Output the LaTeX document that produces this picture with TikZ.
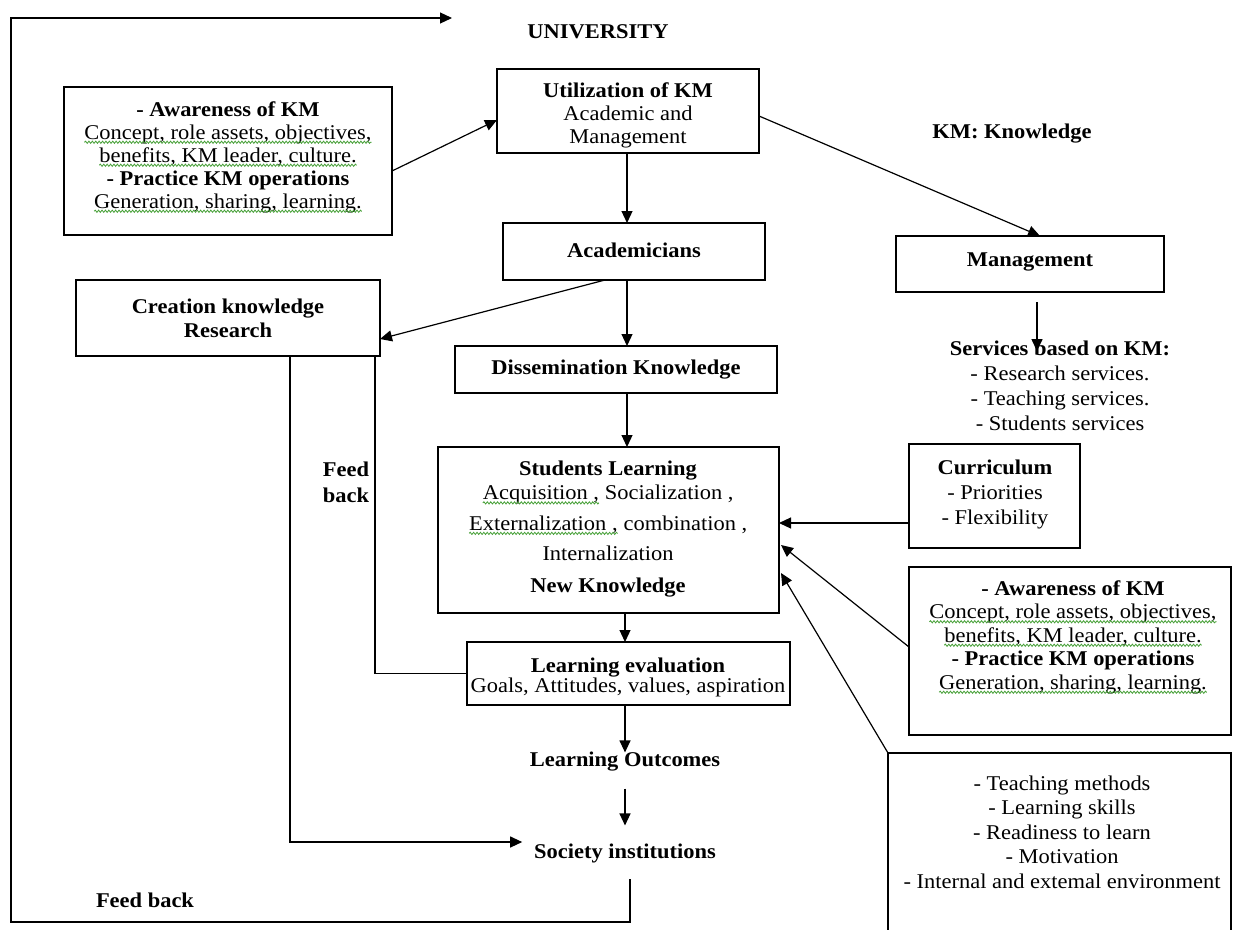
\documentclass[tikz,border=0pt]{standalone}
\usepackage{fontspec}
\setmainfont{Liberation Serif}[FakeStretch=1.07]
\usetikzlibrary{arrows.meta,decorations.pathmorphing,calc}
\definecolor{squig}{RGB}{70,160,55}
\tikzset{
  frame/.style={draw=black, line width=1.6pt, inner sep=0pt, outer sep=0pt, anchor=north west},
  txt/.style={font=\fontsize{21}{23}\selectfont, align=center, inner sep=0pt, outer sep=0pt},
  hd/.style={txt, font=\fontsize{21}{23}\selectfont\bfseries},
  link/.style={line width=1.2pt},
  arr/.style={link, -{Triangle[length=12pt,width=11pt]}},
  wave/.style={draw=squig, line width=0.8pt, decorate,
    decoration={snake, segment length=3.4pt, amplitude=1.1pt}},
}
% green wavy underline under a line of text
\newcommand\wavy[1]{\tikz[baseline=(wv.base)]{\node[inner sep=0pt,outer sep=0pt] (wv) {#1};%
  \path[wave] ([yshift=-3.2pt]wv.base west) -- ([yshift=-3.2pt]wv.base east);}}

\begin{document}
\begin{tikzpicture}[x=1pt, y=-1pt]
\fill[white] (0,0) rectangle (1233,929);
\useasboundingbox (0,0) rectangle (1233,929);

% ---- frames ----
\node[frame, minimum width=328pt, minimum height=148pt] (aw1)    at (64,87)   {};
\node[frame, minimum width=262pt, minimum height=84pt]  (util)   at (497,69)  {};
\node[frame, minimum width=262pt, minimum height=57pt]  (acad)   at (503,223) {};
\node[frame, minimum width=268pt, minimum height=56pt]  (mgmt)   at (896,236) {};
\node[frame, minimum width=304pt, minimum height=76pt]  (creat)  at (76,280)  {};
\node[frame, minimum width=322pt, minimum height=47pt]  (dissem) at (455,346) {};
\node[frame, minimum width=341pt, minimum height=166pt] (stud)   at (438,447) {};
\node[frame, minimum width=171pt, minimum height=104pt] (curr)   at (909,444) {};
\node[frame, minimum width=322pt, minimum height=168pt] (aw2)    at (909,567) {};
\node[frame, minimum width=323pt, minimum height=63pt]  (lev)    at (467,642) {};
\node[frame, minimum width=343pt, minimum height=200pt] (env)    at (888,753) {};

% ---- texts ----
\node[hd] (univ) at (598,32) {UNIVERSITY};
\node[hd] (kmk) at (1012,134) {KM: Knowledge};

\node[txt] (aw1t) at (228,157) {{\bfseries - Awareness of KM}\\
  \wavy{Concept, role assets, objectives,}\\
  \wavy{benefits, KM leader, culture.}\\
  {\bfseries - Practice KM operations}\\
  \wavy{Generation, sharing, learning.}};

\node[txt] (utilt) at (628,115) {{\bfseries Utilization of KM}\\ Academic and\\ Management};
\node[hd] (acadt) at (634,250) {Academicians};
\node[hd] (mgmtt) at (1030,262) {Management};

\node[txt, font=\fontsize{21}{25}\selectfont] (srv) at (1060,386)
  {{\bfseries Services based on KM:}\\ - Research services.\\ - Teaching services.\\ - Students services};

\node[hd, font=\fontsize{21}{24}\selectfont\bfseries] (creatt) at (228,318) {Creation knowledge\\ Research};
\node[hd] (dissemt) at (616,370) {Dissemination Knowledge};

\node[hd] (studh) at (608,471) {Students Learning};
\node[txt, font=\fontsize{21}{30.5}\selectfont] (studb) at (608,523)
  {\wavy{Acquisition ,} Socialization ,\\ \wavy{Externalization ,} combination ,\\ Internalization};
\node[hd] (studn) at (608,588) {New Knowledge};

\node[txt, font=\fontsize{21}{25}\selectfont] (currt) at (995,494)
  {{\bfseries Curriculum}\\ - Priorities\\ - Flexibility};

\node[txt, font=\fontsize{21}{23.5}\selectfont] (aw2t) at (1073,637) {{\bfseries - Awareness of KM}\\
  \wavy{Concept, role assets, objectives,}\\
  \wavy{benefits, KM leader, culture.}\\
  {\bfseries - Practice KM operations}\\
  \wavy{Generation, sharing, learning.}};

\node[txt, font=\fontsize{21}{24.5}\selectfont] (envt) at (1062,832)
  {- Teaching methods\\ - Learning skills\\ - Readiness to learn\\ - Motivation\\ - Internal and extemal environment};

\node[txt, font=\fontsize{21}{20}\selectfont] (levt) at (628,677)
  {{\bfseries Learning evaluation}\\ Goals, Attitudes, values, aspiration};

\node[hd] (lo)  at (625,762) {Learning Outcomes};
\node[hd] (soc) at (625,853) {Society institutions};

\node[hd, font=\fontsize{21}{26}\selectfont\bfseries] (fbm) at (346,482) {Feed\\ back};
\node[hd] (fbb) at (145,900) {Feed back};

% ---- connectors ----
\draw[arr] ([yshift=-10pt]aw1.east) -- ([yshift=-9pt]util.west);
\draw[arr] ([yshift=-5pt]util.east) -- ([xshift=10pt]mgmt.north);
\draw[arr] ([xshift=-1pt]util.south) -- ([xshift=-1pt]util.south |- acad.north);
\draw[arr] ([xshift=7pt,yshift=-10pt]mgmt.south) -- ([xshift=7pt,yshift=-10pt]mgmt.south |- srv.north);
\draw[arr] ([xshift=-29pt]acad.south) -- ([yshift=-21pt]creat.east);
\draw[arr] ([xshift=-7pt]acad.south) -- ([xshift=-7pt]acad.south |- dissem.north);
\draw[arr] ([xshift=11pt]dissem.south) -- ([xshift=11pt]dissem.south |- stud.north);
\draw[arr] ([xshift=16.5pt]stud.south) -- ([xshift=16.5pt]stud.south |- lev.north);
\draw[arr] ([xshift=-3.5pt]lev.south) -- ([xshift=-3.5pt]lev.south |- lo.north);
\draw[arr] ([yshift=-17pt]lo.south) -- ([yshift=18pt]soc.north);

% research line to society and feedback line to evaluation
\draw[arr] ([xshift=62pt]creat.south) |- ([xshift=-12pt,yshift=11pt]soc.west);
\draw[link] ([xshift=147pt]creat.south) |- (lev.west);

% inputs into students learning
\draw[arr] ([yshift=-27pt]curr.west) -- ([yshift=-27pt]curr.west -| stud.east);
\draw[arr] ([yshift=4pt]aw2.west) -- ([xshift=2pt,yshift=-15pt]stud.east);
\draw[arr] (env.north west) -- ([xshift=2pt,yshift=-43pt]stud.east);

% outer feedback loop back to the university
\coordinate (fbL) at (11,922);
\coordinate (fbT) at (11,18);
\coordinate (fbE) at (452,18);
\draw[arr] ([xshift=5pt,yshift=-16.5pt]soc.south) |- (fbL) -- (fbT) -- (fbE);
\end{tikzpicture}
\end{document}
